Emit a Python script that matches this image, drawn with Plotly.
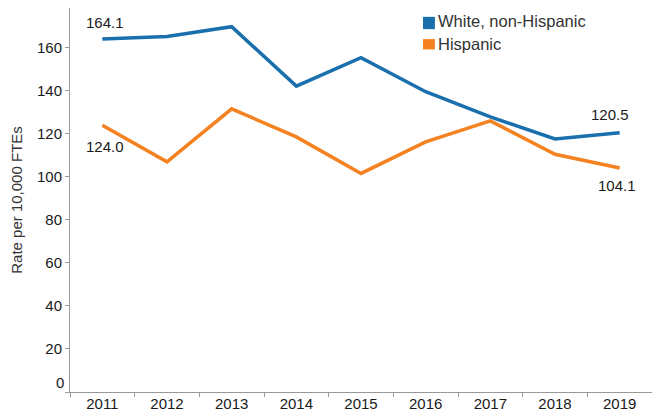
import plotly.graph_objects as go

years = ["2011", "2012", "2013", "2014", "2015", "2016", "2017", "2018", "2019"]
white = [164.1, 165.3, 169.8, 142.2, 155.4, 139.6, 127.9, 117.6, 120.5]
hispanic = [124.0, 107.0, 131.6, 118.6, 101.6, 116.3, 126.0, 110.5, 104.1]
series_names = ["White, non-Hispanic", "Hispanic"]
colors = ["#1a6fad", "#f58220"]
y_ticks = [0, 20, 40, 60, 80, 100, 120, 140, 160]

FONT = "Liberation Sans, Arial, sans-serif"
fig = go.Figure()
for name, vals, col in zip(series_names, [white, hispanic], colors):
    fig.add_trace(go.Scatter(x=years, y=vals, mode="lines", name=name,
                             line=dict(color=col, width=3.5),
                             showlegend=False, hoverinfo="skip"))

# end-point labels (x given as category index)
last = len(years) - 1
labels = [
    (0, white[0], f"{white[0]:.1f}", 3, 16),
    (0, hispanic[0], f"{hispanic[0]:.1f}", 3, -21),
    (last, white[-1], f"{white[-1]:.1f}", -10, 18),
    (last, hispanic[-1], f"{hispanic[-1]:.1f}", -3, -17),
]
for x, y, t, xs, ys in labels:
    fig.add_annotation(x=x, y=y, xref="x", yref="y", text=t, showarrow=False, xshift=xs, yshift=ys,
                       font=dict(size=15, color="#1a1a1a", family=FONT))

# zero label lifted off the axis
fig.add_annotation(x=0, xref="paper", xanchor="right", xshift=-4, y=0, yref="y", yshift=10,
                   text="0", showarrow=False, font=dict(size=15, color="#1a1a1a", family=FONT))

# legend: squares + text
leg_rows = [(0.977, 0.945, 0.965), (0.919, 0.892, 0.906)]
for (y1, y0, ty), name, col in zip(leg_rows, series_names, colors):
    fig.add_shape(type="rect", xref="paper", yref="paper", x0=0.6065, x1=0.627, y0=y0, y1=y1,
                  fillcolor=col, line=dict(width=0))
    fig.add_annotation(x=0.629, y=ty, xref="paper", yref="paper", xanchor="left", yanchor="middle",
                       text=name, showarrow=False, font=dict(size=16.5, color="#333333", family=FONT))

fig.update_layout(
    width=652, height=409,
    margin=dict(l=62, r=8, t=0, b=25, autoexpand=False),
    plot_bgcolor="white", paper_bgcolor="white",
    font=dict(family=FONT, size=15, color="#1a1a1a"),
    showlegend=False,
    xaxis=dict(type="category", range=[-0.5, 8.5], showline=True, linecolor="#999999", linewidth=1,
               ticks="outside", tickson="boundaries", ticklen=4, tickcolor="#999999",
               ticklabelstandoff=-2, automargin=False,
               showgrid=False, zeroline=False, tickfont=dict(size=15, color="#1a1a1a")),
    yaxis=dict(range=[0, 178.5], showline=True, linecolor="#999999", linewidth=1,
               tickvals=y_ticks, ticktext=[""] + [str(v) for v in y_ticks[1:]],
               ticks="outside", ticklen=4, tickcolor="#999999", showgrid=False, zeroline=False,
               tickfont=dict(size=15, color="#1a1a1a"), automargin=False,
               title=dict(text="Rate per 10,000 FTEs", font=dict(size=15, color="#333333"), standoff=13)),
)
fig.write_html("out.html")
